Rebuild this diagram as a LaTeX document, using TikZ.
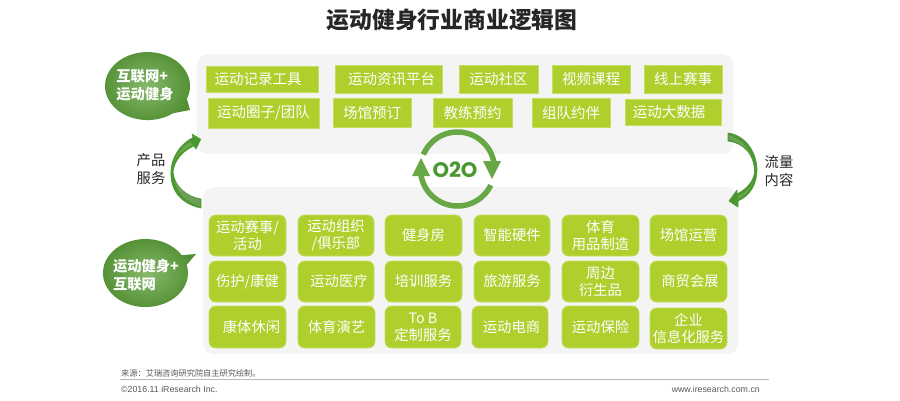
\documentclass[tikz,border=0pt]{standalone}
\usepackage{fontspec}
\setmainfont{Noto Sans CJK SC}
\newfontfamily\latinf{Liberation Sans}
\newfontfamily\roundf{Poppins}
\usetikzlibrary{shapes.geometric}
\definecolor{boxg}{HTML}{AFCF2D}
\definecolor{boxe}{HTML}{C4DD63}
\definecolor{darkg}{HTML}{5A9E38}
\definecolor{midg}{HTML}{68A745}
\definecolor{deepg}{HTML}{4A9830}
\definecolor{twistg}{HTML}{6E9F58}
\definecolor{panelg}{HTML}{F4F4F4}
\tikzset{
  x=1pt,y=-1pt,
  panel/.style={fill=panelg,draw=none,rounded corners=11pt,anchor=north west,inner sep=0pt},
  topbox/.style={fill=boxg,draw=boxe,line width=.7pt,text=white,inner sep=0pt,font=\fontsize{14.5}{16}\selectfont,align=center},
  botbox/.style={topbox,rounded corners=6.5pt,font=\fontsize{14.3}{17}\selectfont},
  bubtext/.style={text=white,font=\fontsize{14.3}{18}\selectfont\bfseries,align=left,inner sep=0pt},
  sidetext/.style={text=black!85,font=\fontsize{14.3}{17.5}\selectfont,align=center,inner sep=0pt},
  foot/.style={text=black!65,inner sep=0pt,font=\fontsize{8.2}{10}\selectfont},
  arrowfill/.style={fill=midg,draw=none},
  edgefill/.style={fill=deepg,draw=deepg,line width=.6pt,line join=round},
  twistfill/.style={fill=twistg,draw=none},
  ringband/.style={midg,line width=5.5pt},
  bubfill/.style={inner color=midg!80!white,outer color=darkg!90!black},
}
% name, x1, y1, x2, y2, style, text
\newcommand{\bx}[7]{%
  \pgfmathsetmacro{\bw}{#4-#2}\pgfmathsetmacro{\bh}{#5-#3}%
  \node[#6,minimum width=\bw pt,minimum height=\bh pt] (#1) at ({(#2+#4)/2},{(#3+#5)/2}) {#7};}
\begin{document}
\begin{tikzpicture}
\useasboundingbox (0,0) rectangle (900,400);
\fill[white] (0,0) rectangle (900,400);
\node[inner sep=0pt,font=\fontsize{22.8}{26}\selectfont\bfseries,text=black!85] (title) at (452,20) {运动健身行业商业逻辑图};

% panels
\node[panel,minimum width=536pt,minimum height=100pt] (toppanel) at (197,54) {};
\node[panel,minimum width=535pt,minimum height=167pt] (botpanel) at (203,187) {};

% top boxes
\bx{t1}{206}{66}{318}{92}{topbox}{运动记录工具\hspace*{8pt}}
\bx{t2}{335}{65}{442}{93}{topbox}{\hspace*{6pt}运动资讯平台}
\bx{t3}{459}{65}{538}{93}{topbox}{运动社区}
\bx{t4}{552}{65}{630}{93}{topbox}{视频课程}
\bx{t5}{644}{65}{722}{93}{topbox}{线上赛事}
\bx{t6}{208}{98}{319}{128}{topbox}{运动圈子/团队}
\bx{t7}{333}{98}{411}{127}{topbox}{场馆预订}
\bx{t8}{433}{98}{512}{127}{topbox}{教练预约}
\bx{t9}{532}{98}{610}{127}{topbox}{组队约伴}
\bx{t10}{625}{99}{721}{125}{topbox}{运动大数据\hspace*{8pt}}

% bottom boxes
\bx{b1}{209}{215}{286}{256}{botbox}{运动赛事/\\活动}
\bx{b2}{298}{215}{374}{256}{botbox}{运动组织\\/俱乐部}
\bx{b3}{385}{215}{462}{256}{botbox}{健身房}
\bx{b4}{474}{215}{550}{256}{botbox}{智能硬件}
\bx{b5}{562}{215}{639}{256}{botbox}{体育\\用品制造}
\bx{b6}{650}{215}{727}{256}{botbox}{场馆运营}
\bx{b7}{209}{261}{286}{302}{botbox}{伤护/康健}
\bx{b8}{298}{261}{374}{302}{botbox}{\hspace*{6pt}运动医疗}
\bx{b9}{385}{261}{462}{302}{botbox}{培训服务}
\bx{b10}{474}{261}{550}{302}{botbox}{旅游服务}
\bx{b11}{562}{261}{639}{302}{botbox}{周边\\衍生品}
\bx{b12}{650}{261}{727}{302}{botbox}{\hspace*{3pt}商贸会展}
\bx{b13}{209}{306}{286}{348}{botbox}{\hspace*{8pt}康体休闲}
\bx{b14}{298}{306}{375}{348}{botbox}{体育演艺}
\bx{b15}{385}{306}{461}{348}{botbox}{To B\\定制服务}
\bx{b16}{472}{306}{548}{348}{botbox}{\hspace*{3pt}运动电商}
\bx{b17}{562}{306}{639}{348}{botbox}{运动保险}
\bx{b18}{650}{308}{727}{349}{botbox}{企业\\信息化服务}

% speech bubbles
\shade[bubfill] (190,110) -- (173.1,113.2)
  arc[start angle=53,end angle=382,x radius=42.5,y radius=34] -- cycle;
\node[bubtext] (bub1) at (145,85.5) {互联网+\\运动健身};
\shade[bubfill] (196,254) -- (186.7,264.8)
  arc[start angle=-14,end angle=328.4,x radius=42.5,y radius=34] -- cycle;
\node[bubtext] (bub2) at (146,275.5) {运动健身+\\互联网};

% side labels
\node[sidetext] (lbl1) at (151,169) {产品\\服务};
\node[sidetext] (lbl2) at (779,171) {流量\\内容};

% left curved arrow
\coordinate (la) at (201,208);
\coordinate (lb) at (200.7,139.3);
\fill[edgefill] (la) .. controls (181,204) and (170,190) .. (171,172)
  .. controls (171,158) and (180,144) .. (193,137.5) -- (192,134) -- (lb) -- (196,149) -- (194,146)
  .. controls (184,150) and (174,160) .. (173,172)
  .. controls (174,186) and (187,197) .. (201,199) -- cycle;
\fill[twistfill] (200.5,206.5) .. controls (186,203) and (176,192) .. (173.5,177)
  .. controls (177,188) and (188,197) .. (200.5,200) -- cycle;
\fill[arrowfill] (190,142) .. controls (183,146) and (176,154) .. (173,164)
  .. controls (176,156) and (184,149) .. (193,145) -- cycle;

% right curved arrow
\coordinate (ra) at (728,133);
\coordinate (rb) at (729,201);
\fill[edgefill] (ra) .. controls (745,135) and (757,152) .. (757,170)
  .. controls (757,184) and (750,196) .. (738,201) -- (738,207) -- (rb) -- (737,190) -- (737,194)
  .. controls (747,189) and (755,180) .. (754.5,170)
  .. controls (754,155) and (744,143) .. (728,141) -- cycle;
\fill[twistfill] (728.5,135) .. controls (738,137) and (748,146) .. (752,158)
  .. controls (746,148) and (738,141) .. (728.5,139.5) -- cycle;
\fill[arrowfill] (738,196) .. controls (745,193) and (751,187) .. (754,180)
  .. controls (751,189) and (745,196) .. (738,199.5) -- cycle;

% O2O ring
\draw[ringband] plot[domain=157:8,samples=70] ({457.5+37*cos(\x)},{169-37*sin(\x)});
\coordinate (h1a) at (483,161);
\coordinate (h1b) at (501,161);
\coordinate (h1c) at (492,179);
\fill[arrowfill] (h1a) -- (h1b) -- (h1c) -- cycle;
\draw[ringband] plot[domain=-26:-170,samples=70] ({457.5+37*cos(\x)},{169-37*sin(\x)});
\coordinate (h2a) at (412,176);
\coordinate (h2b) at (430,176);
\coordinate (h2c) at (421,158);
\fill[arrowfill] (h2a) -- (h2b) -- (h2c) -- cycle;
\node[inner sep=0pt,text=deepg,font=\roundf\fontsize{21}{24}\selectfont\bfseries] (o2o) at (455,170) {O2O};

% footer
\node[foot,anchor=west] (src) at (121,373) {来源：艾瑞咨询研究院自主研究绘制。};
\coordinate (f1) at (120,379.5);
\coordinate (f2) at (769,379.5);
\draw[black!28,line width=1pt] (f1) -- (f2);
\node[foot,anchor=west,font=\latinf\fontsize{8.8}{10}\selectfont] (copy) at (121,389) {©2016.11 iResearch Inc.};
\node[foot,anchor=east,font=\latinf\fontsize{8.8}{10}\selectfont] (web) at (760,389) {www.iresearch.com.cn};
\end{tikzpicture}
\end{document}
